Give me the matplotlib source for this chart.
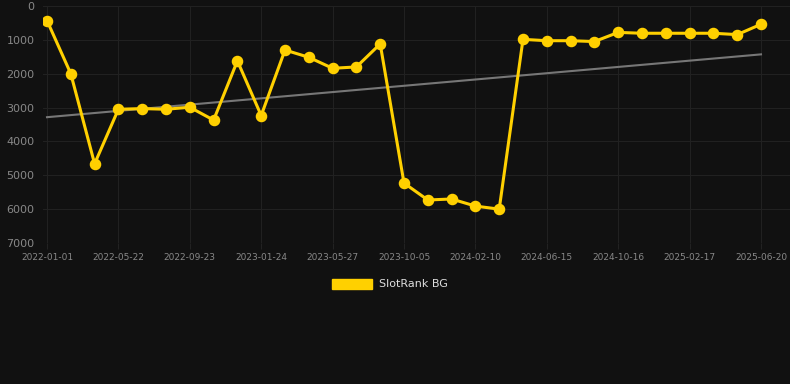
import numpy as np
import matplotlib
matplotlib.use('Agg')
from matplotlib import pyplot as plt
from matplotlib.patches import Patch

# 31 samples on a category axis, label on every third one
tick_labels = ['2022-01-01', '2022-05-22', '2022-09-23', '2023-01-24', '2023-05-27',
               '2023-10-05', '2024-02-10', '2024-06-15', '2024-10-16', '2025-02-17',
               '2025-06-20']
rank = [430, 2000, 4660, 3050, 3030, 3050, 2990, 3370, 1620, 3235,
        1300, 1515, 1840, 1800, 1120, 5230, 5730, 5700, 5910, 6000,
        985, 1025, 1025, 1050, 780, 805, 805, 805, 805, 845, 540]
series_name = 'SlotRank BG'

bg = '#111111'
yellow = '#FFD000'

x = np.arange(len(rank))

fig = plt.figure(figsize=(7.9, 3.84), dpi=100, facecolor=bg)
ax = fig.add_axes([43 / 790, 1 - 243 / 384, 747 / 790, 237 / 384])
ax.set_facecolor(bg)

# trend line (least squares)
k, b = np.polyfit(x, rank, 1)
ax.plot([x[0], x[-1]], [k * x[0] + b, k * x[-1] + b], color='#777777', lw=1.5, zorder=2)

ax.plot(x, rank, color=yellow, lw=2.2, marker='o', markersize=7.3, zorder=3)

ax.set_xlim(-4 / 23.8, 30 + 29 / 23.8)
ax.set_ylim(7000, 0)
ax.set_yticks(range(0, 7001, 1000))
ax.set_xticks(x[::3])
ax.set_xticklabels(tick_labels)

ax.grid(True, color='#222222', lw=0.7)
for s in ax.spines.values():
    s.set_visible(False)
ax.tick_params(axis='y', colors='#888888', labelsize=8, length=0, pad=6)
ax.tick_params(axis='x', colors='#222222', labelcolor='#888888', labelsize=6.5, length=4, pad=3)

fig.legend(handles=[Patch(facecolor=yellow, edgecolor=yellow)], labels=[series_name],
           loc='center', bbox_to_anchor=(0.5 - 5 / 790, 1 - 284 / 384), frameon=False,
           handlelength=3.6, handleheight=1.0, fontsize=8, labelcolor='#dddddd',
           handletextpad=0.6)

fig.savefig('out.png', facecolor=bg)
